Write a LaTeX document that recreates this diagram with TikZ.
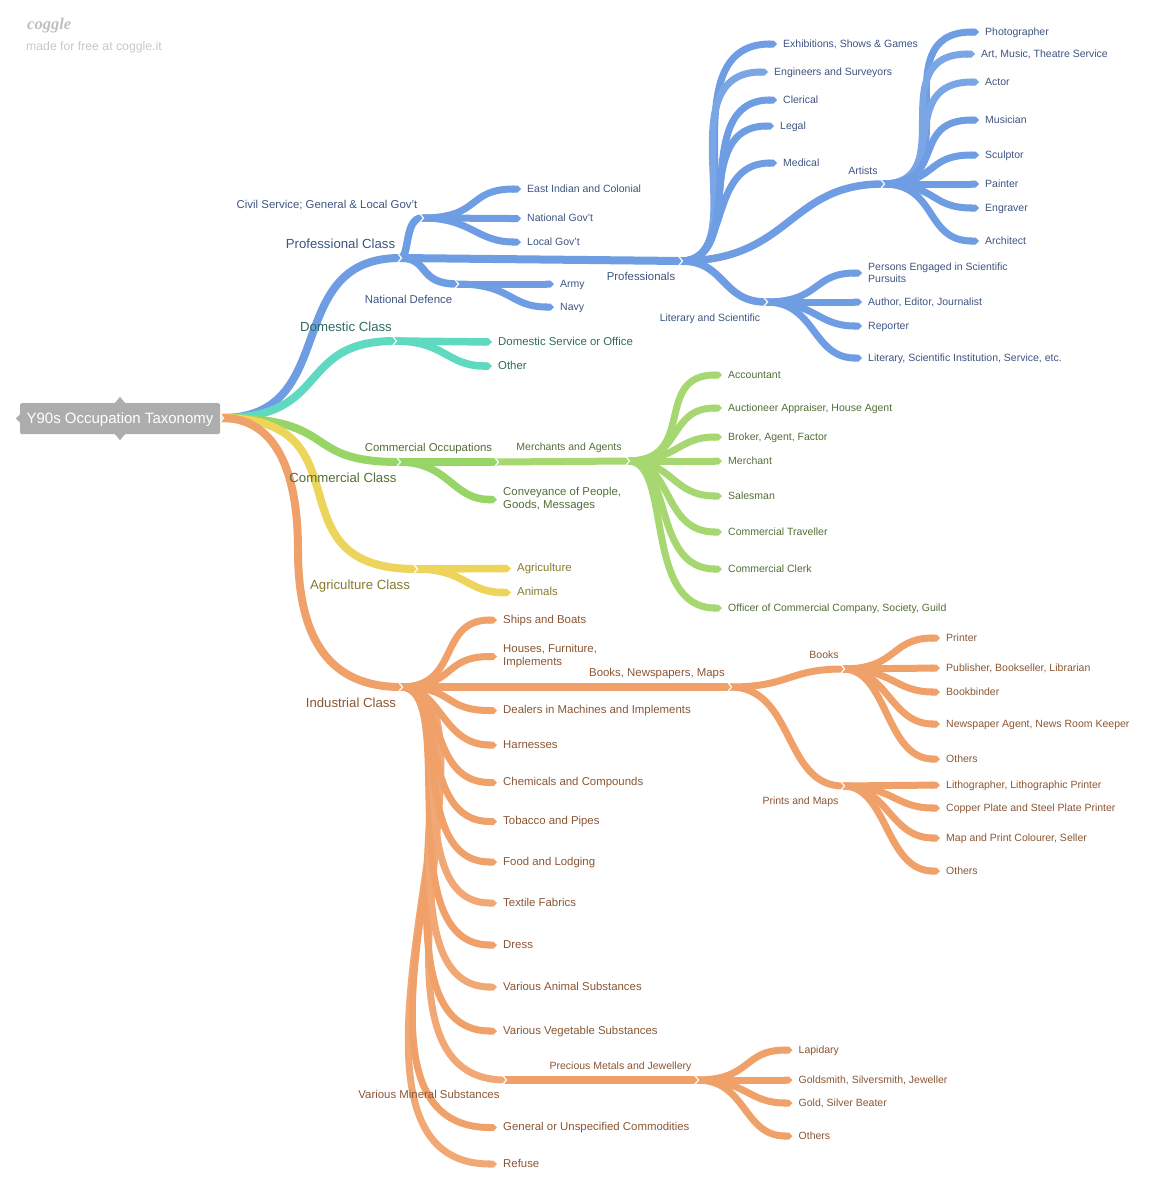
\documentclass[tikz,border=0pt]{standalone}
\usepackage{fontspec}
\setmainfont{Liberation Sans}
\newfontfamily\logofont{Liberation Serif}
\usetikzlibrary{arrows.meta}
\definecolor{cbl}{HTML}{6E9DE3}
\definecolor{cblb}{HTML}{7BA6E6}
\definecolor{cte}{HTML}{5FD9C0}
\definecolor{cgr}{HTML}{97D567}
\definecolor{cgrb}{HTML}{A7D771}
\definecolor{cye}{HTML}{EDD55B}
\definecolor{cor}{HTML}{F0A069}
\definecolor{corb}{HTML}{F2A875}
\definecolor{tbl}{HTML}{3D5480}
\definecolor{tte}{HTML}{2E6C60}
\definecolor{tgr}{HTML}{526E38}
\definecolor{tye}{HTML}{857A2E}
\definecolor{tor}{HTML}{8A5634}
\definecolor{rootgray}{HTML}{ADADAD}
\pgfdeclarelayer{wires}
\pgfsetlayers{wires,main}
\newcommand{\br}[5]{\draw[#1] (#2) .. controls +(#3,0) and +(-#4,0) .. (#5);}
\newcommand{\lv}[5]{\draw[tp,#1] (#2) .. controls +(#3,0) and +(-#4,0) .. (#5.west);}
\newcommand{\chev}[1]{\draw[white,line width=1.2pt,line join=miter] ([shift={(-3,-5.5)}]#1) -- ([shift={(1.5,0)}]#1) -- ([shift={(-3,5.5)}]#1);}
\tikzset{
  tp/.style={-{Triangle Cap[]}},
  fsa/.style={font=\fontsize{13.2}{16}\selectfont},
  fsc/.style={font=\fontsize{11.4}{13}\selectfont},
  fsd/.style={font=\fontsize{10.5}{12}\selectfont},
  lfm/.style={anchor=west,inner xsep=6pt,inner ysep=0pt,align=left},
  lf/.style={lfm,text height=9.5pt,text depth=3pt},
  lb/.style={anchor=center,inner sep=0pt,text height=10pt,text depth=3pt},
  nubgray/.style={fill=rootgray,draw=none},
  bA/.style={line width=8pt,draw=cbl},
  bB/.style={line width=7.5pt,draw=cbl},
  bC/.style={line width=7pt,draw=cbl},
  bD/.style={line width=7pt,draw=cblb},
  oA/.style={line width=8pt,draw=cor},
  oB/.style={line width=7.5pt,draw=cor},
  oC/.style={line width=7pt,draw=cor},
  oD/.style={line width=7pt,draw=corb},
  gA/.style={line width=8pt,draw=cgr},
  gB/.style={line width=7.5pt,draw=cgr},
  gC/.style={line width=7pt,draw=cgrb},
  tA/.style={line width=8pt,draw=cte},
  tB/.style={line width=7.5pt,draw=cte},
  yA/.style={line width=8pt,draw=cye},
  yB/.style={line width=7.5pt,draw=cye},
}
\begin{document}
\begin{tikzpicture}[x=1pt,y=-1pt]
\useasboundingbox (0,0) rectangle (1156,1200);
% logo
\node[anchor=west,inner sep=0pt,text=black!25,font=\logofont\itshape\bfseries\fontsize{16.5}{20}\selectfont] (logo) at (27,26) {coggle};
\node[anchor=west,inner sep=0pt,text=black!22,font=\fontsize{12.25}{14}\selectfont] (made) at (26,47.5) {made for free at coggle.it};
% root
\node[fill=rootgray,rounded corners=1.5pt,minimum width=200pt,minimum height=31pt,inner sep=0pt,text=white,text height=13pt,text depth=2.5pt,font=\fontsize{15}{18}\selectfont] (root) at (120,418.5) {Y90s Occupation Taxonomy};
\coordinate (R) at (222,418);
\coordinate (oMid) at (298,550);
% junctions
\coordinate (jP) at (400,258);
\coordinate (jC) at (422,218);
\coordinate (jN) at (457,284);
\coordinate (jPr) at (681,261);
\coordinate (jA) at (883,184);
\coordinate (jL) at (766,302);
\coordinate (jD) at (395,341);
\coordinate (jCc) at (399,462);
\coordinate (jCo) at (497,462);
\coordinate (jM) at (628,461);
\coordinate (jAg) at (416,569);
\coordinate (jI) at (401,687);
\coordinate (jBn) at (730,687);
\coordinate (jBk) at (843,669);
\coordinate (jPm) at (843,786);
\coordinate (jPj) at (505,1080);
\coordinate (jPk) at (697,1080);
% branch labels
\begin{scope}[text=tbl]
\node[lb,fsa] (tP) at (340.5,245) {Professional Class};
\node[lb,fsc] (tC) at (327,205) {Civil Service; General \& Local Gov't};
\node[lb,fsc] (tN) at (408.5,300) {National Defence};
\node[lb,fsc] (tPr) at (641,277) {Professionals};
\node[lb,fsd] (tL) at (710,318) {Literary and Scientific};
\node[lb,fsd] (tA) at (863,170.5) {Artists};
\end{scope}
\node[lb,fsa,text=tte] (tD) at (346,328) {Domestic Class};
\begin{scope}[text=tgr]
\node[lb,fsa] (tCc) at (343,479) {Commercial Class};
\node[lb,fsc] (tCo) at (428.5,448) {Commercial Occupations};
\node[lb,fsd] (tM) at (569,447) {Merchants and Agents};
\end{scope}
\node[lb,fsa,text=tye] (tAg) at (360,586) {Agriculture Class};
\begin{scope}[text=tor]
\node[lb,fsa] (tI) at (351,704) {Industrial Class};
\node[lb,fsc] (tBn) at (657,673) {Books, Newspapers, Maps};
\node[lb,fsd] (tBk) at (824,655) {Books};
\node[lb,fsd] (tPm) at (800.5,800.5) {Prints and Maps};
\node[lb,fsc] (tVm) at (429,1095) {Various Mineral Substances};
\node[lb,fsd] (tPk) at (620.5,1065.5) {Precious Metals and Jewellery};
\end{scope}
% leaves blue
\begin{scope}[text=tbl]
\node[lf,fsd] (a1) at (521,189) {East Indian and Colonial};
\node[lf,fsd] (a2) at (521,218.5) {National Gov't};
\node[lf,fsd] (a3) at (521,242) {Local Gov't};
\node[lf,fsd] (b1) at (554,284) {Army};
\node[lf,fsd] (b2) at (554,307) {Navy};
\node[lf,fsd] (c1) at (777,44) {Exhibitions, Shows \& Games};
\node[lf,fsd] (c2) at (768,72) {Engineers and Surveyors};
\node[lf,fsd] (c3) at (777,100) {Clerical};
\node[lf,fsd] (c4) at (774,126) {Legal};
\node[lf,fsd] (c5) at (777,163) {Medical};
\node[lf,fsd] (d1) at (979,32) {Photographer};
\node[lf,fsd] (d2) at (975,54) {Art, Music, Theatre Service};
\node[lf,fsd] (d3) at (979,82) {Actor};
\node[lf,fsd] (d4) at (979,120) {Musician};
\node[lf,fsd] (d5) at (979,155) {Sculptor};
\node[lf,fsd] (d6) at (979,184) {Painter};
\node[lf,fsd] (d7) at (979,208) {Engraver};
\node[lf,fsd] (d8) at (979,241) {Architect};
\node[lfm,fsd] (e1) at (862,273) {Persons Engaged in Scientific\\Pursuits};
\node[lf,fsd] (e2) at (862,302) {Author, Editor, Journalist};
\node[lf,fsd] (e3) at (862,326) {Reporter};
\node[lf,fsd] (e4) at (862,358) {Literary, Scientific Institution, Service, etc.};
\end{scope}
% teal
\begin{scope}[text=tte]
\node[lf,fsc] (f1) at (492,342) {Domestic Service or Office};
\node[lf,fsc] (f2) at (492,366) {Other};
\end{scope}
% green
\begin{scope}[text=tgr]
\node[lfm,fsc] (g0) at (497,499.5) {Conveyance of People,\\Goods, Messages};
\node[lf,fsd] (g1) at (722,375) {Accountant};
\node[lf,fsd] (g2) at (722,408) {Auctioneer Appraiser, House Agent};
\node[lf,fsd] (g3) at (722,437) {Broker, Agent, Factor};
\node[lf,fsd] (g4) at (722,461) {Merchant};
\node[lf,fsd] (g5) at (722,496) {Salesman};
\node[lf,fsd] (g6) at (722,532) {Commercial Traveller};
\node[lf,fsd] (g7) at (722,569) {Commercial Clerk};
\node[lf,fsd] (g8) at (722,608) {Officer of Commercial Company, Society, Guild};
\end{scope}
% yellow
\begin{scope}[text=tye]
\node[lf,fsc] (h1) at (511,568.5) {Agriculture};
\node[lf,fsc] (h2) at (511,592.5) {Animals};
\end{scope}
% orange
\begin{scope}[text=tor]
\node[lf,fsc] (i1) at (497,620) {Ships and Boats};
\node[lfm,fsc] (i2) at (497,656.5) {Houses, Furniture,\\Implements};
\node[lf,fsc] (i3) at (497,710.5) {Dealers in Machines and Implements};
\node[lf,fsc] (i4) at (497,745) {Harnesses};
\node[lf,fsc] (i5) at (497,782.5) {Chemicals and Compounds};
\node[lf,fsc] (i6) at (497,821.5) {Tobacco and Pipes};
\node[lf,fsc] (i7) at (497,862) {Food and Lodging};
\node[lf,fsc] (i8) at (497,903) {Textile Fabrics};
\node[lf,fsc] (i9) at (497,945) {Dress};
\node[lf,fsc] (i10) at (497,987) {Various Animal Substances};
\node[lf,fsc] (i11) at (497,1031) {Various Vegetable Substances};
\node[lf,fsc] (i12) at (497,1127.5) {General or Unspecified Commodities};
\node[lf,fsc] (i13) at (497,1164) {Refuse};
\node[lf,fsd] (k1) at (940,638) {Printer};
\node[lf,fsd] (k2) at (940,668) {Publisher, Bookseller, Librarian};
\node[lf,fsd] (k3) at (940,692) {Bookbinder};
\node[lf,fsd] (k4) at (940,724) {Newspaper Agent, News Room Keeper};
\node[lf,fsd] (k5) at (940,759) {Others};
\node[lf,fsd] (m1) at (940,785) {Lithographer, Lithographic Printer};
\node[lf,fsd] (m2) at (940,808) {Copper Plate and Steel Plate Printer};
\node[lf,fsd] (m3) at (940,838) {Map and Print Colourer, Seller};
\node[lf,fsd] (m4) at (940,871) {Others};
\node[lf,fsd] (n1) at (792.5,1050) {Lapidary};
\node[lf,fsd] (n2) at (792.5,1080) {Goldsmith, Silversmith, Jeweller};
\node[lf,fsd] (n3) at (792.5,1103) {Gold, Silver Beater};
\node[lf,fsd] (n4) at (792.5,1136) {Others};
\end{scope}
\begin{pgfonlayer}{wires}
% root nubs
\fill[nubgray] ([shift={(0,-6)}]root.north) -- ([shift={(5,0)}]root.north) -- ([shift={(0,6)}]root.north) -- ([shift={(-5,0)}]root.north) -- cycle;
\fill[nubgray] ([shift={(0,-6)}]root.south) -- ([shift={(5,0)}]root.south) -- ([shift={(0,6)}]root.south) -- ([shift={(-5,0)}]root.south) -- cycle;
\fill[nubgray] ([shift={(-4,0)}]root.west) -- ([shift={(1,5)}]root.west) -- ([shift={(1,-5)}]root.west) -- cycle;
% blue
\br{bA}{R}{120}{120}{jP}
\br{bB}{jP}{10}{18}{jC}
\lv{bC}{jC}{60}{55}{a1}
\lv{bC}{jC}{40}{40}{a2}
\lv{bC}{jC}{50}{45}{a3}
\br{bB}{jP}{30}{40}{jN}
\lv{bC}{jN}{30}{30}{b1}
\lv{bC}{jN}{55}{45}{b2}
\draw[bA] (jP) -- (jPr);
\lv{bC}{jPr}{78}{114}{c1}
\lv{bD}{jPr}{76}{105}{c2}
\lv{bC}{jPr}{70}{90}{c3}
\lv{bC}{jPr}{65}{85}{c4}
\lv{bC}{jPr}{50}{70}{c5}
\br{bB}{jPr}{110}{95}{jA}
\br{bB}{jPr}{45}{45}{jL}
\lv{bC}{jA}{90}{100}{d1}
\lv{bD}{jA}{80}{95}{d2}
\lv{bD}{jA}{70}{85}{d3}
\lv{bC}{jA}{65}{70}{d4}
\lv{bC}{jA}{55}{55}{d5}
\draw[bC,tp] (jA) -- (d6.west);
\lv{bC}{jA}{55}{50}{d7}
\lv{bC}{jA}{55}{55}{d8}
\lv{bC}{jL}{55}{50}{e1}
\draw[bC,tp] (jL) -- (e2.west);
\lv{bC}{jL}{50}{45}{e3}
\lv{bC}{jL}{50}{50}{e4}
% teal
\br{tA}{R}{110}{100}{jD}
\draw[tB,tp] (jD) -- (f1.west);
\lv{tB}{jD}{50}{45}{f2}
% green
\br{gA}{R}{120}{100}{jCc}
\draw[gB] (jCc) -- (jCo);
\lv{gB}{jCc}{50}{45}{g0}
\draw[gC] (jCo) -- (jM);
\lv{gC}{jM}{70}{70}{g1}
\lv{gC}{jM}{55}{55}{g2}
\lv{gC}{jM}{50}{45}{g3}
\draw[gC,tp] (jM) -- (g4.west);
\lv{gC}{jM}{45}{50}{g5}
\lv{gC}{jM}{45}{60}{g6}
\lv{gC}{jM}{45}{70}{g7}
\lv{gC}{jM}{45}{80}{g8}
% yellow
\br{yA}{R}{150}{150}{jAg}
\draw[yB,tp] (jAg) -- (h1.west);
\lv{yB}{jAg}{50}{45}{h2}
% orange
\draw[oA] (R) .. controls (275,418) and (298,470) .. (oMid) .. controls (298,640) and (330,687) .. (jI);
\lv{oD}{jI}{118}{198}{i13}
\lv{oC}{jI}{120}{190}{i12}
\br{oD}{jI}{110}{165}{jPj}
\lv{oC}{jI}{80}{135}{i11}
\lv{oD}{jI}{70}{120}{i10}
\lv{oC}{jI}{60}{110}{i9}
\lv{oD}{jI}{60}{100}{i8}
\lv{oC}{jI}{50}{90}{i7}
\lv{oC}{jI}{45}{80}{i6}
\lv{oC}{jI}{45}{70}{i5}
\lv{oC}{jI}{40}{55}{i4}
\lv{oC}{jI}{55}{55}{i3}
\lv{oC}{jI}{55}{55}{i2}
\lv{oC}{jI}{60}{60}{i1}
\draw[oB] (jI) -- (jBn);
\br{oC}{jBn}{60}{55}{jBk}
\br{oC}{jBn}{65}{60}{jPm}
\lv{oC}{jBk}{55}{50}{k1}
\draw[oC,tp] (jBk) -- (k2.west);
\lv{oC}{jBk}{50}{45}{k3}
\lv{oC}{jBk}{45}{50}{k4}
\lv{oC}{jBk}{45}{55}{k5}
\draw[oC,tp] (jPm) -- (m1.west);
\lv{oC}{jPm}{50}{45}{m2}
\lv{oC}{jPm}{45}{50}{m3}
\lv{oC}{jPm}{45}{55}{m4}
\draw[oB] (jPj) -- (jPk);
\lv{oC}{jPk}{55}{50}{n1}
\draw[oC,tp] (jPk) -- (n2.west);
\lv{oC}{jPk}{50}{45}{n3}
\lv{oC}{jPk}{50}{50}{n4}
% chevrons
\foreach \j in {R,jP,jC,jN,jPr,jA,jL,jD,jCc,jCo,jM,jAg,jI,jBn,jBk,jPm,jPj,jPk} {\chev{\j}}
\end{pgfonlayer}
\end{tikzpicture}
\end{document}
